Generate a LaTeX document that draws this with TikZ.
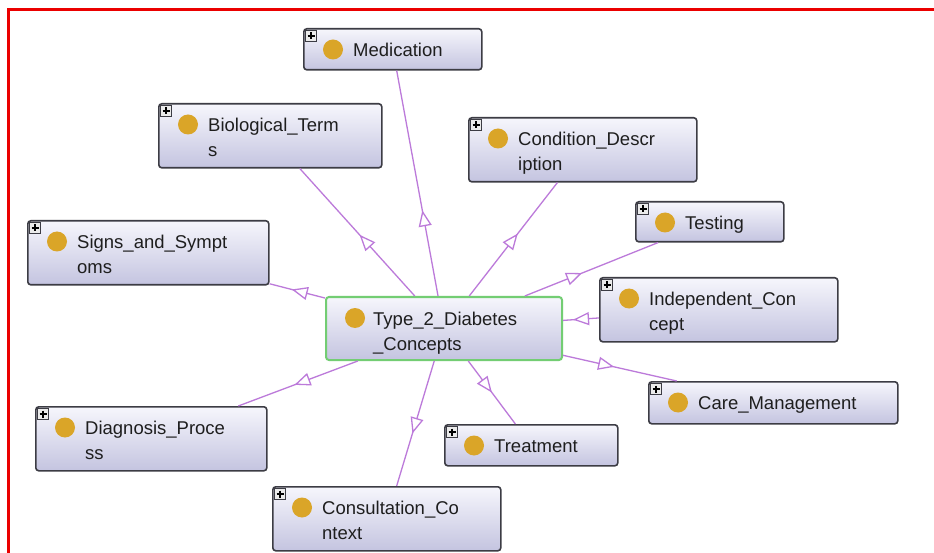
\documentclass[tikz,border=0pt]{standalone}
\usepackage{fontspec}
\setmainfont{Liberation Sans}
\usetikzlibrary{arrows.meta,decorations.markings,calc}
\definecolor{edgecol}{RGB}{188,122,218}
\definecolor{goldc}{RGB}{218,165,40}
\definecolor{boxtop}{RGB}{246,246,252}
\definecolor{boxbot}{RGB}{196,196,224}
\definecolor{boxline}{RGB}{60,60,68}
\definecolor{greenline}{RGB}{115,205,115}
\definecolor{framered}{RGB}{235,0,0}
\definecolor{textc}{RGB}{30,30,30}
\newcommand\clsnode[6]{%
  \node[clsbox, minimum width=#4pt, minimum height=#5pt] (#1) at (#2,#3) {};
  \draw[plusbox] ($(#1.north west)+(2.5,2.5)$) rectangle +(11,11);
  \draw[plussign] ($(#1.north west)+(8,4.5)$) -- +(0,7) ($(#1.north west)+(4.5,8)$) -- +(7,0);
  \fill[goldc] ($(#1.north west)+(30,21.5)$) circle (10pt);
  \node[clstext] (#1t) at ($(#1.north west)+(50,14.5)$) {\rule{0pt}{14pt}#6};
}
\begin{document}
\begin{tikzpicture}[x=1pt,y=-1pt,
  clsbox/.style={draw=boxline, line width=1.6pt, rounded corners=3pt, top color=boxtop, bottom color=boxbot, inner sep=0pt, anchor=north west},
  plusbox/.style={draw=boxline, fill=white!92!black, line width=0.8pt},
  plussign/.style={draw=black, line width=1.2pt},
  clstext/.style={anchor=north west, inner sep=0pt, align=left, font=\fontsize{18.5}{25}\selectfont, text=textc},
  edge/.style={draw=edgecol, line width=1.3pt},
  midtri/.style={postaction={decorate,decoration={markings,mark=at position #1 with {\arrow{Triangle[fill=white,length=16pt,width=13pt]}}}}}
]
\useasboundingbox (0,0) rectangle (934,553);
\fill[white] (0,0) rectangle (934,553);
\draw[framered, line width=3.3pt] (8.5,553) -- (8.5,9.8) -- (934,9.8);

\clsnode{med}{303}{28}{178}{41}{Medication}
\clsnode{bio}{158}{103}{223}{64}{Biological\_Term\\s}
\clsnode{cond}{468}{117}{228}{64}{Condition\_Descr\\iption}
\clsnode{test}{635}{201}{148}{40}{Testing}
\clsnode{signs}{27}{220}{241}{64}{Signs\_and\_Sympt\\oms}
\clsnode{indep}{599}{277}{238}{64}{Independent\_Con\\cept}
\clsnode{care}{648}{381}{249}{42}{Care\_Management}
\clsnode{diag}{35}{406}{231}{64}{Diagnosis\_Proce\\ss}
\clsnode{treat}{444}{424}{173}{41}{Treatment}
\clsnode{cons}{272}{486}{228}{64}{Consultation\_Co\\ntext}

\node[clsbox, draw=greenline, line width=2pt, minimum width=236pt, minimum height=63pt] (c) at (325,296) {};
\fill[goldc] ($(c.north west)+(30,22)$) circle (10pt);
\node[clstext] (ct) at ($(c.north west)+(48,15)$) {\rule{0pt}{14pt}Type\_2\_Diabetes\\\_Concepts};

\draw[edge, midtri=0.38] (c) -- (med);
\draw[edge, midtri=0.48] (c) -- (bio);
\draw[edge, midtri=0.55] (c) -- (cond);
\draw[edge, midtri=0.43] (c) -- (test);
\draw[edge, midtri=0.72] (indep) -- (c);
\draw[edge, midtri=0.6] (c) -- (signs);
\draw[edge, midtri=0.45] (c) -- (care);
\draw[edge, midtri=0.53] (c) -- (diag);
\draw[edge, midtri=0.5] (c) -- (treat);
\draw[edge, midtri=0.58] (c) -- (cons);
\end{tikzpicture}
\end{document}
